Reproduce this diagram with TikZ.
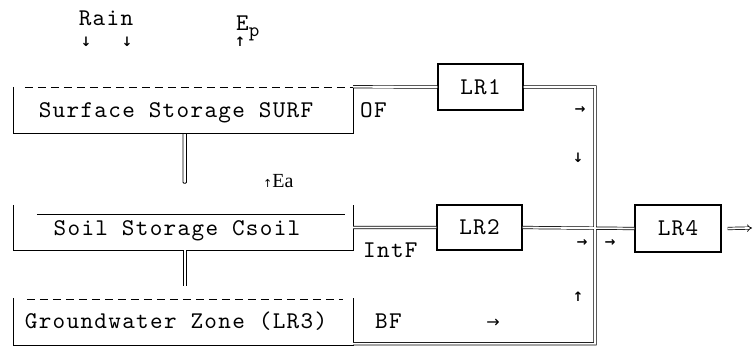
\documentclass[tikz,border=0pt]{standalone}
\usepackage{fontspec}
\newfontfamily\lblfont[LetterSpace=5.5]{lmmono10-regular.otf}
\newfontfamily\arrowfont{DejaVu Sans}
\newfontfamily\eafont{Liberation Serif}
\usetikzlibrary{arrows.meta,calc}

\newcommand\lblsize{\lblfont\fontsize{24}{26}\selectfont}
\tikzset{
  store/.style={minimum width=339pt, minimum height=46pt, inner sep=0pt},
  router/.style={draw, line width=1.1pt, minimum width=85pt, minimum height=46pt, inner sep=0pt, font=\lblsize},
  lbl/.style={inner sep=0pt, font=\lblsize},
  flowmark/.style={inner sep=0pt, font=\arrowfont\bfseries\fontsize{13}{13}\selectfont},
  wall/.style={line width=1.1pt},
  pipe/.style={double, line width=0.7pt, double distance=1.8pt},
  level/.style={line width=0.8pt, dash pattern=on 8pt off 5pt}
}

\begin{document}
\begin{tikzpicture}[x=1pt, y=-1pt]
    \useasboundingbox (0,0) rectangle (755,346);
    % storages
    \node[store] (surf) at (183.5,110) {};
    \node[store, minimum height=45pt] (soil) at (183.5,227.5) {};
    \node[store, minimum height=47pt] (grnd) at (183.5,321.5) {};
    \node[lbl, anchor=base] (surftxt) at (176,117) {Surface Storage SURF};
    \node[lbl, anchor=base] (soiltxt) at (177,235) {Soil Storage Csoil};
    \node[lbl, anchor=base] (grndtxt) at (176,328) {Groundwater Zone (LR3)};
    \draw[wall] (surf.north west) -- (surf.south west) -- (surf.south east) -- (surf.north east);
    \draw[wall] (soil.north west) -- (soil.south west) -- (soil.south east) -- (soil.north east);
    \draw[wall] (grnd.north west) -- (grnd.south west) -- (grnd.south east) -- (grnd.north east);
    \draw[level] ($(surf.north west)+(11,1)$) -- ($(surf.north east)+(0,1)$);
    \draw[line width=0.8pt] ($(soil.north west)+(23,10)$) -- ($(soil.north east)+(-8,10)$);
    \draw[level] ($(grnd.north west)+(13,2)$) -- ($(grnd.north east)+(-10,2)$);
    % linear reservoirs
    \node[router] (lr1) at (480.5,87) {LR1};
    \node[router, minimum height=45pt] (lr2) at (479.5,227.5) {LR2};
    \node[router, minimum width=86pt, minimum height=47pt] (lr4) at (678,228.5) {LR4};
    \coordinate (jn) at (595,228);
    \coordinate (out) at (752,228);
    % flows
    \draw[pipe] (surf.north east) -- (lr1.west)
        (lr1.east) -| (jn)
        (soil.east) -- (lr2.west)
        (lr2.east) -- (lr4.west)
        ($(grnd.south east)+(0,-1.5)$) -| (jn);
    \draw[line width=0.8pt, rounded corners=1pt] ([xshift=-0.5pt]surf.south) -- ++(0,50) -- ++(3.5,0) -- ++(0,-50);
    \draw[pipe, double distance=2.2pt] ([xshift=1.5pt]soil.south) -- ++(0,36);
    \draw[pipe, -Implies] ([xshift=6pt]lr4.east) -- (out);
    % labels
    \node[lbl, anchor=base west] (of) at (360,117) {OF};
    \node[lbl, anchor=base west] (intf) at (363,257) {IntF};
    \node[lbl, anchor=base west] (bf) at (375,328) {BF};
    \node[lbl, anchor=base] (rain) at (106,25) {Rain};
    \node[lbl, anchor=base west] (ep) at (236,30) {E\raisebox{-6pt}{\fontsize{20}{20}\selectfont p}};
    \node[inner sep=0pt, anchor=base west, font=\eafont\fontsize{20}{20}\selectfont] (ea) at (263,187) {{\arrowfont\fontsize{11}{11}\selectfont ↑}Ea};
    \node[flowmark] (r1) at (86,42) {↓};
    \node[flowmark] (r2) at (127,42) {↓};
    \node[flowmark] (e1) at (240,42) {↑};
    \node[flowmark] (f1) at (580,110) {→};
    \node[flowmark] (f2) at (578,158) {↓};
    \node[flowmark] (f3) at (582,243) {→};
    \node[flowmark] (f4) at (610,243) {→};
    \node[flowmark] (f5) at (578,297) {↑};
    \node[flowmark, font=\arrowfont\fontsize{16}{16}\selectfont] (f6) at (493,323) {→};
\end{tikzpicture}
\end{document}
